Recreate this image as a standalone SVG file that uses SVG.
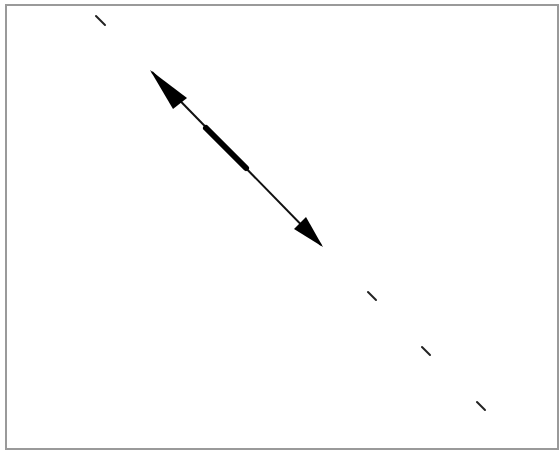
<svg xmlns="http://www.w3.org/2000/svg" width="559" height="452" viewBox="0 0 559 452">
<defs>
<style>
.tick{stroke:#222;stroke-width:2;stroke-linecap:round}
.shaft{stroke:#111;stroke-width:2}
.head{fill:#000}
</style>
</defs>
<rect x="0" y="0" width="559" height="452" fill="#fff"/>
<rect x="6" y="5" width="552" height="444" fill="#fff" stroke="#9a9a9a" stroke-width="2"/>
<g id="ticks">
<line class="tick" x1="96" y1="16" x2="105" y2="25"/>
<line class="tick" x1="368" y1="292" x2="376" y2="300"/>
<line class="tick" x1="422" y1="347" x2="430" y2="355"/>
<line class="tick" x1="477" y1="402" x2="485" y2="410"/>
</g>
<g id="connectors">
<line class="shaft" x1="152" y1="72" x2="321" y2="245"/>
<line x1="206" y1="128" x2="246" y2="168" stroke="#000" stroke-width="6" stroke-linecap="round"/>
<polygon class="head" points="150,70 187,98 173,109"/>
<polygon class="head" points="323,247 294,229 306,217"/>
</g>
</svg>
